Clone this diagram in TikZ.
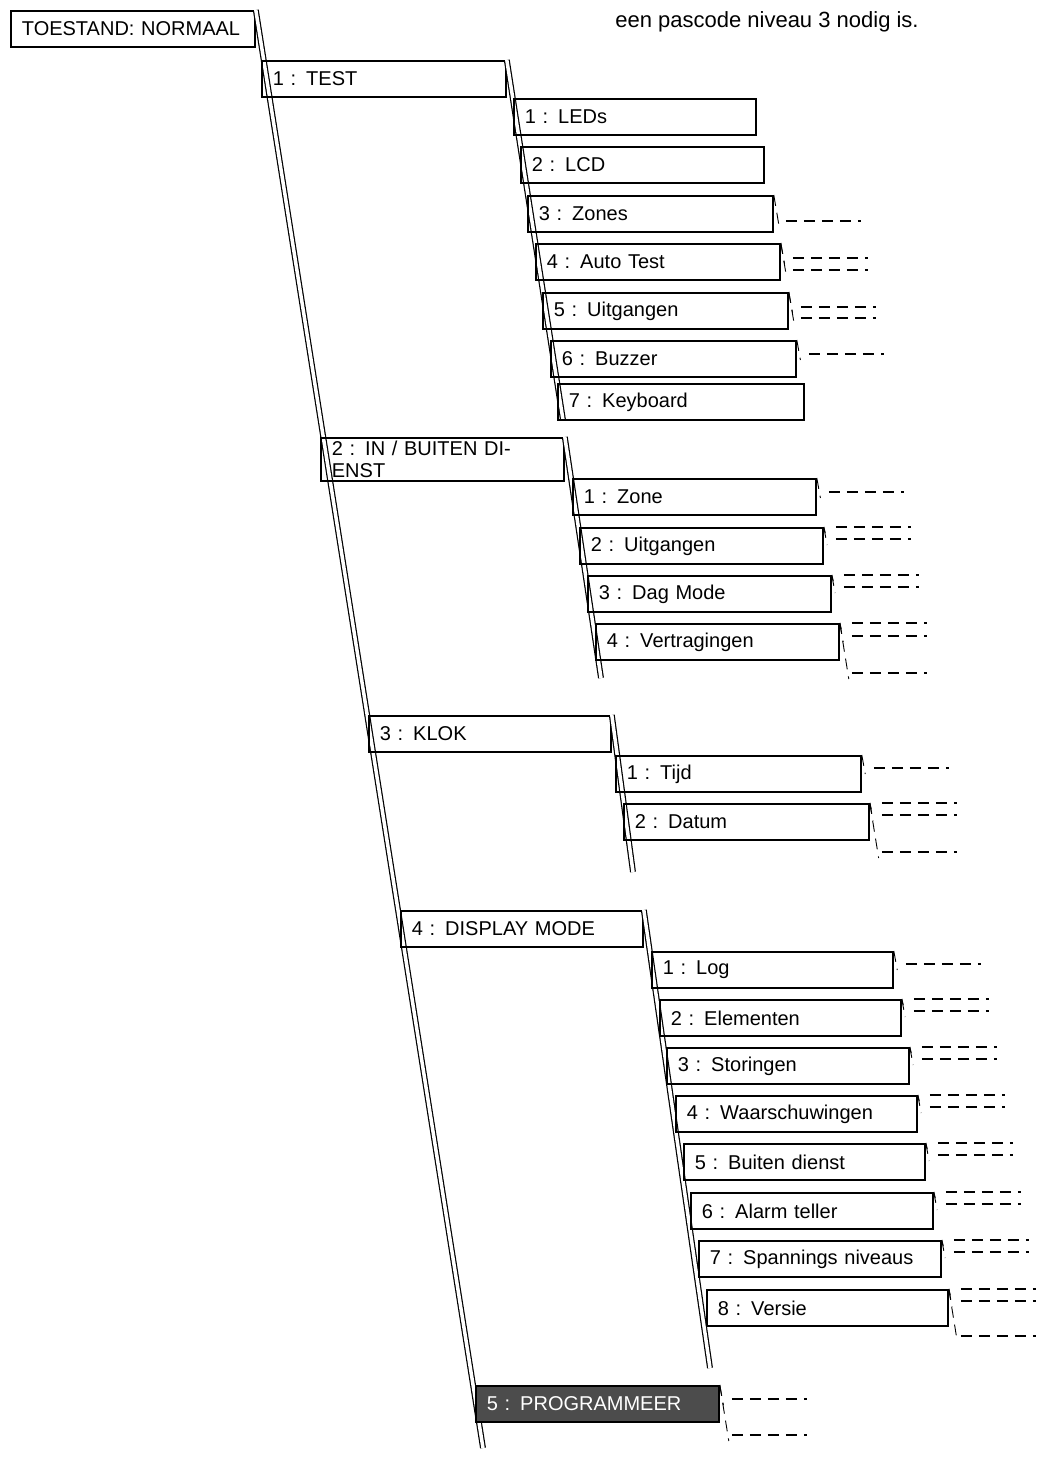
\documentclass[tikz,border=0pt]{standalone}
\usepackage{fontspec}
\setmainfont{Liberation Sans}
\begin{document}
\begin{tikzpicture}[x=1pt,y=-1pt,
  menu/.style={draw,line width=1.8pt,anchor=north west,minimum height=36pt,
    inner xsep=11pt,align=left,font=\fontsize{20}{22}\selectfont},
  spine/.style={draw,line width=1.2pt,double distance=3.5pt},
  stub/.style={dashed,line width=1.3pt,dash pattern=on 11pt off 7pt}]
\useasboundingbox (0,0) rectangle (1040,1459);

% menu boxes: name, x, y, width, label, dash offsets
\newcommand\menuitem[6]{%
  \node[menu,text width=#4-22] (#1) at (#2,#3) {#5};
  \foreach \dy in {#6} {
    \draw[stub] (#1.north east) ++(12,\dy) -- ++(75,0);
    \draw[stub,line width=0.9pt] (#1.north east) -- ++(0.15*\dy+1.5,\dy+6);
  }}

\node[font=\fontsize{22}{24}\selectfont] (note) at (767,22) {een pascode niveau 3 nodig is.};

\menuitem{root}{10}{10}{244}{TOESTAND: NORMAAL}{}
\coordinate (rootend) at (483,1448);
\draw[spine] (root.north east) -- (rootend);

\menuitem{test}{261}{60}{244}{1 : TEST}{}
\coordinate (testend) at (563,420);
\draw[spine] (test.north east) -- (testend);
\menuitem{leds}{513}{98}{242}{1 : LEDs}{}
\menuitem{lcd}{520}{146}{243}{2 : LCD}{}
\menuitem{zones}{527}{195}{245}{3 : Zones}{26}
\menuitem{auto}{535}{243}{244}{4 : Auto Test}{15,27}
\menuitem{uitg}{542}{292}{245}{5 : Uitgangen}{15,26}
\menuitem{buzz}{550}{340}{245}{6 : Buzzer}{14}
\menuitem{keyb}{557}{383}{246}{7 : Keyboard}{}

\menuitem{dienst}{320}{437}{243}{2 : IN / BUITEN DIENST}{}
\coordinate (dienstend) at (601,678);
\draw[spine] (dienst.north east) -- (dienstend);
\menuitem{zone}{572}{478}{243}{1 : Zone}{14}
\menuitem{uitgb}{579}{527}{243}{2 : Uitgangen}{0,12}
\menuitem{dag}{587}{575}{243}{3 : Dag Mode}{0,12}
\menuitem{vertr}{595}{623}{243}{4 : Vertragingen}{0,13,50}

\menuitem{klok}{368}{715}{242}{3 : KLOK}{}
\coordinate (klokend) at (633,872);
\draw[spine] (klok.north east) -- (klokend);
\menuitem{tijd}{615}{755}{245}{1 : Tijd}{13}
\menuitem{datum}{623}{803}{245}{2 : Datum}{0,12,49}

\menuitem{disp}{400}{910}{242}{4 : DISPLAY MODE}{}
\coordinate (dispend) at (710,1368);
\draw[spine] (disp.north east) -- (dispend);
\menuitem{log}{651}{951}{241}{1 : Log}{13}
\menuitem{elem}{659}{999}{241}{2 : Elementen}{0,12}
\menuitem{stor}{666}{1047}{242}{3 : Storingen}{0,12}
\menuitem{waar}{675}{1095}{241}{4 : Waarschuwingen}{0,12}
\menuitem{buit}{683}{1143}{241}{5 : Buiten dienst}{0,12}
\menuitem{alarm}{690}{1192}{242}{6 : Alarm teller}{0,12}
\menuitem{spann}{698}{1240}{242}{7 : Spannings niveaus}{0,12}
\menuitem{versie}{706}{1289}{241}{8 : Versie}{0,12,47}

\node[menu,text width=221,fill=black!70,text=white] (prog) at (475,1385) {5 : PROGRAMMEER};
\foreach \dy in {14,50} {
  \draw[stub] (prog.north east) ++(12,\dy) -- ++(75,0);
  \draw[stub,line width=0.9pt] (prog.north east) -- ++(0.15*\dy+1.5,\dy+6);
}
\end{tikzpicture}
\end{document}
